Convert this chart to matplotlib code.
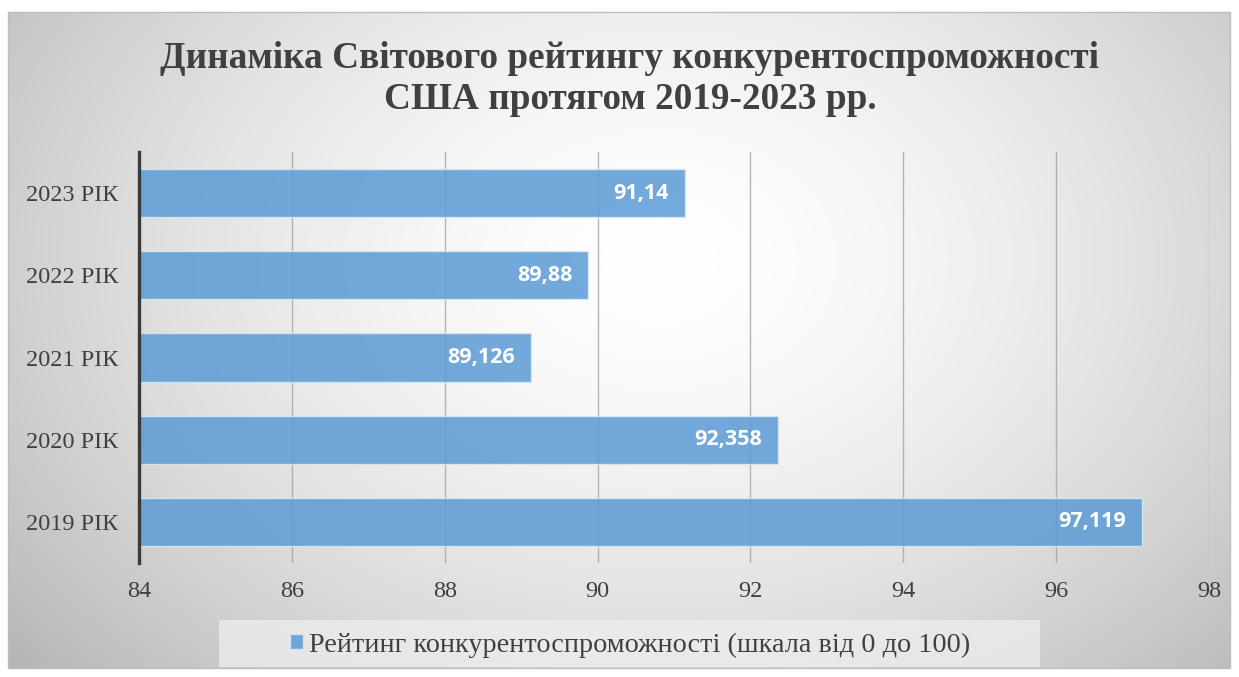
import numpy as np
import matplotlib
matplotlib.use("Agg")
import matplotlib.pyplot as plt
from matplotlib.patches import Rectangle

categories = ["2019 РІК", "2020 РІК", "2021 РІК", "2022 РІК", "2023 РІК"]
values = [97.119, 92.358, 89.126, 89.88, 91.14]
labels = ["97,119", "92,358", "89,126", "89,88", "91,14"]
xticks = [84, 86, 88, 90, 92, 94, 96, 98]
title = "Динаміка Світового рейтингу конкурентоспроможності\nСША протягом 2019-2023 рр."
series_name = "Рейтинг конкурентоспроможності (шкала від 0 до 100)"

W, H = 1239, 677
fig = plt.figure(figsize=(W / 100, H / 100), dpi=100)
fig.patch.set_facecolor("white")

# background radial gradient frame
bg = fig.add_axes([0, 0, 1, 1], zorder=-5)
bg.set_xlim(0, W)
bg.set_ylim(H, 0)
bg.axis("off")
x0, x1, y0, y1 = 8, 1230, 12, 668
xs = np.linspace(x0, x1, 400)
ys = np.linspace(y0, y1, 250)
X, Y = np.meshgrid(xs, ys)
cx, cy = 660, 260
d = np.sqrt(((X - cx) / 760) ** 2 + ((Y - cy) / 560) ** 2)
g = 1 - 0.24 * np.clip(d, 0, 1.2) ** 1.6
img = np.dstack([g, g, g])
bg.imshow(img, extent=(x0, x1, y1, y0), aspect="auto", interpolation="bilinear", zorder=0)
bg.add_patch(Rectangle((x0, y0), x1 - x0, y1 - y0, fill=False, edgecolor="#bdbdbd", lw=1, zorder=1))
# legend background
bg.add_patch(Rectangle((219, 620), 1040 - 219, 47, facecolor="#f0f0f0", alpha=0.7, edgecolor="none", zorder=1))

ax = fig.add_axes([139 / W, 1 - 563 / H, (1209 - 139) / W, (563 - 152) / H])
ax.set_facecolor("none")
ypos = np.arange(len(categories))
bars = ax.barh(ypos, [v - 84 for v in values], left=84, height=0.585,
               color="#5b9bd5", alpha=0.85, edgecolor="#dbe9f6", linewidth=1.0, zorder=3,
               label=series_name)
for y, v, lab in zip(ypos, values, labels):
    ax.annotate(lab, xy=(v, y), xytext=(-11.5, 0), textcoords="offset points",
                ha="right", va="center", color="white", fontsize=15.5,
                fontweight="bold", family="Open Sans", zorder=4)

ax.set_xlim(84, 98)
ax.set_ylim(-0.5, 4.5)
ax.set_xticks(xticks)
ax.set_xticklabels([str(t) for t in xticks], family="Liberation Serif", fontsize=17.5, color="#404040")
ax.set_yticks(ypos)
ax.set_yticklabels(categories, family="Liberation Serif", fontsize=17.5, color="#404040")
ax.tick_params(axis="both", length=0)
ax.tick_params(axis="x", pad=13)
ax.tick_params(axis="y", pad=15)
ax.grid(axis="x", color="#9a9a9a", linewidth=1.0, alpha=0.7, zorder=1)
ax.set_axisbelow(True)
for s in ["top", "right", "bottom"]:
    ax.spines[s].set_visible(False)
ax.spines["left"].set_color("#3a3a3a")
ax.spines["left"].set_linewidth(2.4)
ax.spines["left"].set_zorder(5)

fig.text(630 / W, 1 - 79 / H, title, ha="center", va="center", family="Liberation Serif",
         fontweight="bold", fontsize=26.8, color="#404040", linespacing=1.2)

leg = fig.legend(handles=[bars], labels=[series_name], loc="center",
                 bbox_to_anchor=(630 / W, 1 - 645 / H), frameon=False,
                 prop={"family": "Liberation Serif", "size": 20.3},
                 handlelength=0.45, handleheight=0.45, handletextpad=0.2)
for t in leg.get_texts():
    t.set_color("#404040")

fig.savefig("out.png", dpi=100)
